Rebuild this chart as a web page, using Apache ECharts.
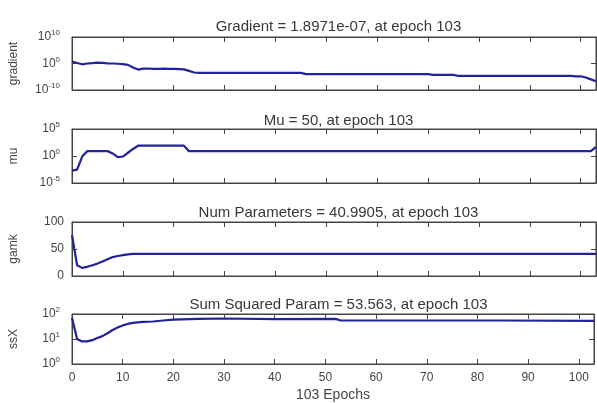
<!DOCTYPE html>
<html>
<head>
<meta charset="utf-8">
<script src="https://cdn.jsdelivr.net/npm/echarts@6/dist/echarts.min.js"></script>
<style>
html,body{margin:0;padding:0;background:#fff;}
#chart{width:597px;height:403px;}
</style>
</head>
<body>
<div id="chart"></div>
<script>
// ---- data ----
const titles = [
  'Gradient = 1.8971e-07, at epoch 103',
  'Mu = 50, at epoch 103',
  'Num Parameters = 40.9905, at epoch 103',
  'Sum Squared Param = 53.563, at epoch 103'
];
const yNames = ['gradient', 'mu', 'gamk', 'ssX'];
const xTickLabels = ['0','10','20','30','40','50','60','70','80','90','100'];
const xAxisTitle = '103 Epochs';

const gradientEpochs = [0,1,2,3,4,5,6,7,8,9,10,11,12,13,14,15,16,17,18,19,20,21,22,23,24,25,45,46,70,71,75,76,98,99,100,101,102,103];
const gradientValues = [5,1.6,0.5,1,1.3,2,1.6,1.2,1,0.8,0.6,0.3,0.03,0.005,0.012,0.013,0.01,0.009,0.011,0.01,0.009,0.008,0.006,0.0016,4e-4,3e-4,3e-4,1e-4,1e-4,5e-5,5e-5,2e-5,2e-5,1.5e-5,1.5e-5,5e-6,1e-6,1.8971e-7];

const muEpochs = [0,1,2,3,4,5,6,7,8,9,10,11,12,13,22,23,102,103];
const muValues = [0.002,0.003,0.8,8,8,8,8,8,3,0.6,0.8,4,20,80,80,8,8,50];

const gamkEpochs = [0,1,2,3,4,5,6,7,8,9,10,11,12,20,40,60,80,103];
const gamkValues = [76,20,15,17,20,23,27,31,35,37,38.5,40,41,41,41,41,41,40.9905];

const ssxEpochs = [0,1,2,3,4,5,6,7,8,9,10,11,12,13,14,15,16,18,20,25,30,40,52,53,85,103];
const ssxValues = [70,10,8,8,9,11,13,17,23,29,35,40,44,46,48,49,50,55,60,64,66,62,64,55,55,53.563];

// ---- layout ----
const gridTops = [37, 129, 222, 314];
const gridHeights = [53, 54, 54, 53];
const GL = 71, GW = 525;
const lineColor = '#22229a';
const axisColor = '#444';
const textColor = '#444';
const FONT = 'Liberation Sans, Arial';

const yCfg = [
  {type:'log', min:1e-10, max:1e10, interval:10},
  {type:'log', min:1e-5, max:1e5, interval:5},
  {type:'value', min:0, max:100, interval:50},
  {type:'log', min:1, max:100, interval:1}
];
const seriesData = [
  [gradientEpochs, gradientValues],
  [muEpochs, muValues],
  [gamkEpochs, gamkValues],
  [ssxEpochs, ssxValues]
];

function logLabel(v){
  const e = Math.round(Math.log10(v));
  return '{b|10}{s|' + e + '}';
}

const grid = [], xAxis = [], yAxis = [], series = [], title = [];
const titleTops = [14, 108, 200, 292];
for (let i = 0; i < 4; i++) {
  grid.push({left: GL, width: GW, top: gridTops[i], height: gridHeights[i], show: true, borderColor: axisColor, borderWidth: 1, backgroundColor: '#fff'});
  title.push({text: titles[i], left: GL + GW/2, textAlign: 'center', top: titleTops[i],
    textStyle: {fontFamily: FONT, fontSize: 15, fontWeight: 'normal', color: '#383838'}});
  const isBottom = i === 3;
  xAxis.push({
    type: 'value', gridIndex: i, min: 0, max: 103, interval: 10, position: 'bottom',
    axisLine: {show: true, onZero: false, lineStyle: {color: axisColor}},
    axisTick: {show: true, inside: true, length: 5, lineStyle: {color: axisColor}},
    splitLine: {show: false},
    axisLabel: {show: isBottom, fontFamily: FONT, fontSize: 12, color: textColor, margin: 8,
      formatter: function(v){ const k = Math.round(v/10); return xTickLabels[k] !== undefined && v % 10 === 0 ? xTickLabels[k] : ''; }},
    name: isBottom ? xAxisTitle : '', nameLocation: 'middle', nameGap: 24,
    nameTextStyle: {fontFamily: FONT, fontSize: 14, color: textColor}
  });
  xAxis.push({
    type: 'value', gridIndex: i, min: 0, max: 103, interval: 10, position: 'top',
    axisLine: {show: true, onZero: false, lineStyle: {color: axisColor}},
    axisTick: {show: true, inside: true, length: 5, lineStyle: {color: axisColor}},
    splitLine: {show: false}, axisLabel: {show: false}
  });
  const yc = yCfg[i];
  const isLog = yc.type === 'log';
  const base = {type: yc.type, gridIndex: i, min: yc.min, max: yc.max, interval: yc.interval};
  if (isLog) base.logBase = 10;
  yAxis.push(Object.assign({}, base, {
    position: 'left',
    axisLine: {show: true, onZero: false, lineStyle: {color: axisColor}},
    axisTick: {show: true, inside: true, length: 5, lineStyle: {color: axisColor}},
    splitLine: {show: false},
    axisLabel: {show: true, margin: isLog ? 12 : 8, fontFamily: FONT, fontSize: 12, color: textColor,
      formatter: isLog ? logLabel : function(v){ return String(v); },
      rich: {b: {fontFamily: FONT, fontSize: 12, color: textColor},
             s: {fontFamily: FONT, fontSize: 8, color: textColor, padding: [0,0,8,0]}}},
    name: yNames[i], nameLocation: 'middle', nameGap: 52, nameRotate: 90,
    nameTextStyle: {fontFamily: FONT, fontSize: 12, color: textColor}
  }));
  yAxis.push(Object.assign({}, base, {
    position: 'right',
    axisLine: {show: true, onZero: false, lineStyle: {color: axisColor}},
    axisTick: {show: true, inside: true, length: 5, lineStyle: {color: axisColor}},
    splitLine: {show: false}, axisLabel: {show: false}
  }));
  const [ep, vals] = seriesData[i];
  series.push({
    type: 'line', xAxisIndex: 2*i, yAxisIndex: 2*i, showSymbol: false, symbol: 'none',
    lineStyle: {color: lineColor, width: 2.2}, animation: false,
    data: ep.map((e, k) => [e, vals[k]])
  });
}

const chart = echarts.init(document.getElementById('chart'), null, {renderer: 'canvas'});
chart.setOption({backgroundColor: '#fff', animation: false, title, grid, xAxis, yAxis, series});
</script>
</body>
</html>
